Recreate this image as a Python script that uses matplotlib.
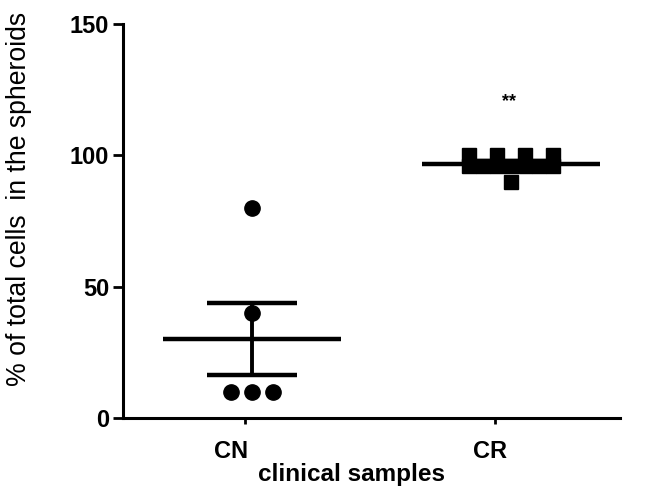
import numpy as np
import matplotlib
matplotlib.use("Agg")
import matplotlib.pyplot as plt
from matplotlib.transforms import ScaledTranslation

categories = ["CN", "CR"]
cn_values = [80, 40, 10, 10, 10]
cr_values = [100, 100, 100, 100, 96, 96, 96, 96, 96, 96, 96, 90]
y_ticks = [0, 50, 100, 150]
significance = "**"

plt.rcParams['font.family'] = ['Liberation Sans', 'DejaVu Sans']

W, H = 658, 495
fig = plt.figure(figsize=(W / 100, H / 100), dpi=100)
L, R, B, T = 123, 620, 418, 24
ax = fig.add_axes([L / W, 1 - B / H, (R - L) / W, (B - T) / H])

ax.set_xlim(0.512, 2.5)
ax.set_ylim(0, 150)

def spread(vals, center):
    vals = np.asarray(vals, float)
    xs = np.full(len(vals), center)
    for v in np.unique(vals):
        idx = np.where(vals == v)[0]
        n = len(idx)
        if n > 1:
            w = 0.084 if n <= 3 else 0.17
            xs[idx] = center + np.linspace(-w, w, n)
    return xs

centers = [1.028, 2.064]
groups = [cn_values, cr_values]
markers = ['o', 's']
for c, vals, m in zip(centers, groups, markers):
    vals = np.asarray(vals, float)
    xs = spread(vals, c)
    ax.plot(xs, vals, linestyle='none', marker=m, color='black',
            markersize=11 if m == 'o' else 10.5, zorder=3)
    mean = vals.mean()
    sem = vals.std(ddof=1) / np.sqrt(len(vals))
    ax.hlines(mean, c - 0.355, c + 0.355, color='black', lw=3.2, zorder=2)
    ax.vlines(c, mean - sem, mean + sem, color='black', lw=2.8, zorder=2)
    for yv in (mean - sem, mean + sem):
        ax.hlines(yv, c - 0.18, c + 0.18, color='black', lw=3.2, zorder=2)

ax.text(2.056, 120.5, significance, ha='center', va='center', fontsize=13,
        fontweight='bold')

for s in ['top', 'right']:
    ax.spines[s].set_visible(False)
for s in ['left', 'bottom']:
    ax.spines[s].set_linewidth(2.2)

ax.set_yticks(y_ticks)
ax.set_yticklabels([str(t) for t in y_ticks], fontsize=17, fontweight='bold')
ax.tick_params(axis='y', length=7, width=2, pad=3)
ax.set_xticks([1, 2])
ax.set_xticklabels(categories, fontsize=17, fontweight='bold')
ax.tick_params(axis='x', length=4, width=2, pad=12)
for lab, dx in zip(ax.get_xticklabels(), [-14, -5]):
    lab.set_transform(lab.get_transform() + ScaledTranslation(dx / 100, 0, fig.dpi_scale_trans))

fig.text(352 / W, 1 - 475 / H, "clinical samples", ha='center', va='center',
         fontsize=17.5, fontweight='bold')
fig.text(19 / W, 1 - 199 / H, "% of total cells  in the spheroids", ha='center',
         va='center', rotation=90, fontsize=19.2)

fig.savefig("out.png", dpi=100)
